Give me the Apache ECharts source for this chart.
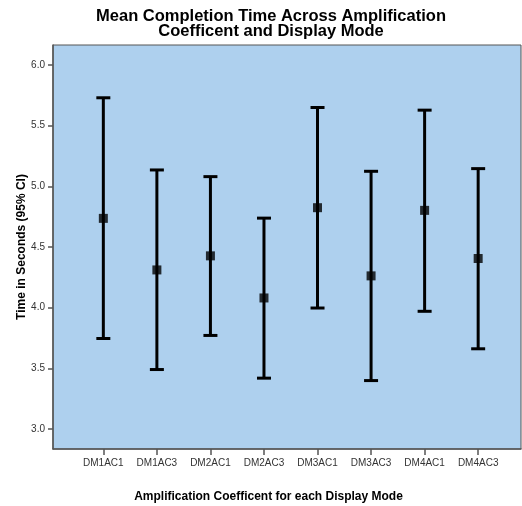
<!DOCTYPE html>
<html>
<head>
<meta charset="utf-8">
<script src="https://cdn.jsdelivr.net/npm/echarts@6/dist/echarts.min.js"></script>
<style>html,body{margin:0;padding:0;background:#fff}#c{width:522px;height:506px}</style>
</head>
<body>
<div id="c"></div>
<script>
const categories = ["DM1AC1","DM1AC3","DM2AC1","DM2AC3","DM3AC1","DM3AC3","DM4AC1","DM4AC3"];
const means = [4.736, 4.311, 4.427, 4.080, 4.824, 4.262, 4.802, 4.405];
const upper = [5.730, 5.135, 5.080, 4.738, 5.650, 5.124, 5.628, 5.146];
const lower = [3.746, 3.490, 3.771, 3.419, 3.997, 3.399, 3.970, 3.661];
const yTicks = [3.0, 3.5, 4.0, 4.5, 5.0, 5.5, 6.0];

const catIdx = categories.map((c, i) => i);
const font = "'Liberation Sans', Arial, sans-serif";
const chart = echarts.init(document.getElementById('c'), null, {renderer: 'canvas'});
chart.setOption({
  animation: false,
  title: {
    text: "Mean Completion Time Across Amplification\nCoefficent and Display Mode",
    left: 266, top: 4, textAlign: 'center',
    textStyle: {fontFamily: font, fontSize: 16.5, fontWeight: 'bold', color: '#000', lineHeight: 15}
  },
  grid: {left: 53, right: 1, top: 45, bottom: 57, outerBoundsMode: 'none', containLabel: false,
    show: true, backgroundColor: '#AED0EE', borderColor: '#555', borderWidth: 1},
  xAxis: {
    type: 'value', min: -0.94, max: 7.8,
    name: 'Amplification Coefficent for each Display Mode',
    nameLocation: 'middle', nameGap: 42,
    nameTextStyle: {fontFamily: font, fontSize: 12, fontWeight: 'bold', color: '#000', padding: [0, 37, 0, 0]},
    axisLine: {show: true, onZero: false, lineStyle: {color: '#555', width: 1.5}},
    axisTick: {show: true, length: 6, customValues: catIdx, lineStyle: {color: '#555', width: 1.5}},
    axisLabel: {customValues: catIdx, margin: 9, fontFamily: font, fontSize: 10, color: '#333',
      formatter: v => categories[Math.round(v)]},
    splitLine: {show: false}
  },
  yAxis: {
    type: 'value', min: 2.835, max: 6.165,
    name: 'Time in Seconds (95% CI)',
    nameLocation: 'middle', nameGap: 25, nameMoveOverlap: false,
    nameTextStyle: {fontFamily: font, fontSize: 12, fontWeight: 'bold', color: '#000'},
    axisLine: {show: true, onZero: false, lineStyle: {color: '#555', width: 1.5}},
    axisTick: {show: true, length: 5, customValues: yTicks, lineStyle: {color: '#555', width: 1.5}},
    axisLabel: {customValues: yTicks, margin: 8, fontFamily: font, fontSize: 10, color: '#333',
      formatter: v => v.toFixed(1)},
    splitLine: {show: false}
  },
  series: [
    {
      type: 'custom',
      data: catIdx.map(i => [i, lower[i], upper[i]]),
      renderItem: function (params, api) {
        const x = api.value(0);
        const lo = api.coord([x, api.value(1)]);
        const hi = api.coord([x, api.value(2)]);
        const hw = 7;
        const st = {stroke: '#000', lineWidth: 3};
        return {type: 'group', children: [
          {type: 'line', shape: {x1: lo[0], y1: lo[1], x2: hi[0], y2: hi[1]}, style: st},
          {type: 'line', shape: {x1: hi[0]-hw, y1: hi[1], x2: hi[0]+hw, y2: hi[1]}, style: st},
          {type: 'line', shape: {x1: lo[0]-hw, y1: lo[1], x2: lo[0]+hw, y2: lo[1]}, style: st}
        ]};
      },
      z: 2
    },
    {
      type: 'scatter',
      data: catIdx.map(i => [i, means[i]]),
      symbol: 'rect', symbolSize: 9,
      itemStyle: {color: '#000'},
      z: 3
    }
  ]
});
</script>
</body>
</html>
